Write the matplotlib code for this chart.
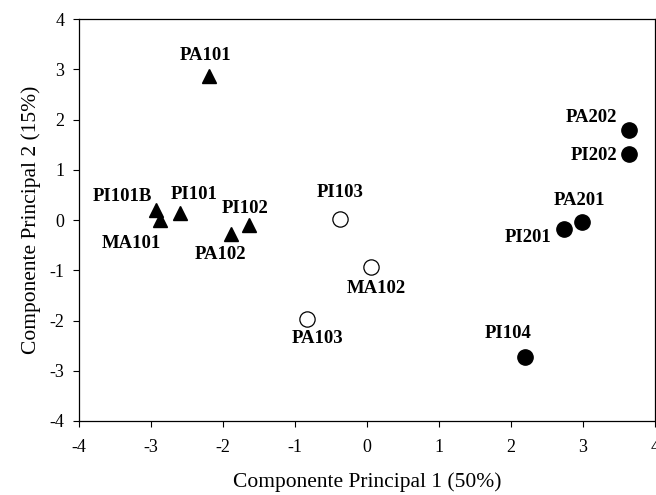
import matplotlib.pyplot as plt

# grupos: triángulos negros, círculos blancos, círculos negros
tri_names = ["PA101", "PI101B", "MA101", "PI101", "PA102", "PI102"]
tri_x = [-2.19, -2.93, -2.875, -2.59, -1.89, -1.64]
tri_y = [2.87, 0.20, 0.0, 0.13, -0.27, -0.10]

open_names = ["PI103", "MA102", "PA103"]
open_x = [-0.37, 0.06, -0.83]
open_y = [0.02, -0.93, -1.97]

fill_names = ["PA202", "PI202", "PA201", "PI201", "PI104"]
fill_x = [3.64, 3.64, 2.99, 2.74, 2.20]
fill_y = [1.79, 1.31, -0.03, -0.18, -2.73]

ticks = [-4, -3, -2, -1, 0, 1, 2, 3, 4]

# desplazamiento de cada etiqueta (pixeles)
offsets = {
    "PA101": (-4, 20), "PI101B": (-34, 13), "MA101": (-29, -23),
    "PI101": (14, 19), "PA102": (-10, -21), "PI102": (-4, 17),
    "PI103": (0, 26), "MA102": (5, -22), "PA103": (10, -20),
    "PA202": (-38, 13), "PI202": (-35, -1), "PA201": (-3, 21),
    "PI201": (-36, -8), "PI104": (-17, 24),
}

plt.rcParams['font.family'] = ['Liberation Serif', 'DejaVu Serif']
plt.rcParams['axes.unicode_minus'] = False

fig = plt.figure(figsize=(6.56, 4.95), dpi=100)
ax = fig.add_axes([0.1204, 0.1495, 0.878, 0.8121])

ax.plot(tri_x, tri_y, '^', color='black', ms=9.5, ls='none')
ax.plot(open_x, open_y, 'o', mfc='white', mec='black', mew=0.9, ms=11, ls='none')
ax.plot(fill_x, fill_y, 'o', color='black', ms=11, ls='none')

for names, xs, ys in [(tri_names, tri_x, tri_y), (open_names, open_x, open_y),
                      (fill_names, fill_x, fill_y)]:
    for n, x, y in zip(names, xs, ys):
        ax.annotate(n, (x, y), xytext=offsets[n], textcoords='offset pixels',
                    ha='center', va='center', fontsize=13.5, fontweight='bold')

ax.set_xlim(-4, 4)
ax.set_ylim(-4, 4)
ax.set_xticks(ticks)
ax.set_yticks(ticks)
ax.tick_params(direction='out', length=4, width=0.8, labelsize=13)
ax.tick_params(axis='x', pad=9)
ax.tick_params(axis='y', pad=6.5)
for s in ax.spines.values():
    s.set_linewidth(0.9)

ax.set_xlabel("Componente Principal 1 (50%)", fontsize=15.5, labelpad=12)
ax.set_ylabel("Componente Principal 2 (15%)", fontsize=15.5, labelpad=6)

fig.savefig("out.png", dpi=100)
